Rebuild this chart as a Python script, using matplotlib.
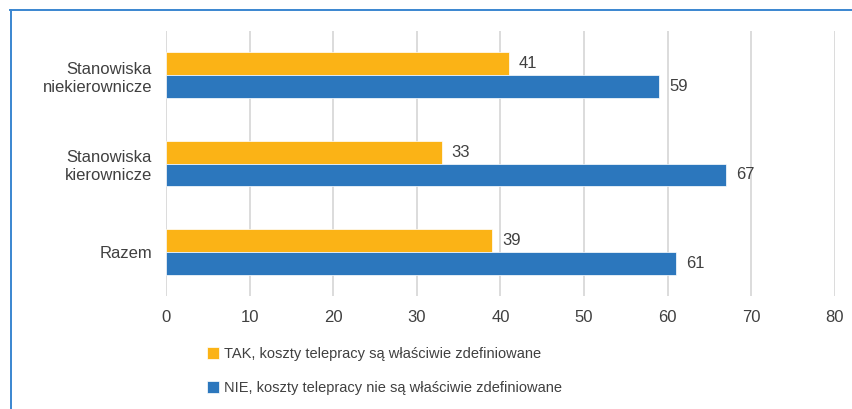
import matplotlib
matplotlib.use("Agg")
import matplotlib.pyplot as plt
from matplotlib.lines import Line2D
import numpy as np

plt.rcParams['font.family'] = ['Liberation Sans', 'DejaVu Sans']

categories = ["Stanowiska\nniekierownicze", "Stanowiska\nkierownicze", "Razem"]
tak_values = [41, 33, 39]
nie_values = [59, 67, 61]
series_labels = ["TAK, koszty telepracy są właściwie zdefiniowane",
                 "NIE, koszty telepracy nie są właściwie zdefiniowane"]
x_ticks = [0, 10, 20, 30, 40, 50, 60, 70, 80]

c_tak = "#FBB316"
c_nie = "#2C77BD"
c_text = "#404040"
c_grid = "#D9D9D9"
c_frame = "#3A86D0"

W, H = 853, 409
fig = plt.figure(figsize=(W / 100, H / 100), dpi=100)
ax = fig.add_axes([166 / W, 1 - 296 / H, (835 - 166) / W, (296 - 31) / H])

y = np.arange(len(categories))
h = 0.26
b1 = ax.barh(y - h / 2, tak_values, height=h, color=c_tak, edgecolor="white",
             linewidth=0.5, label=series_labels[0], zorder=3)
b2 = ax.barh(y + h / 2, nie_values, height=h, color=c_nie, edgecolor="white",
             linewidth=0.5, label=series_labels[1], zorder=3)

for bars, vals in ((b1, tak_values), (b2, nie_values)):
    for rect, v in zip(bars, vals):
        ax.annotate(str(v), (v, rect.get_y() + rect.get_height() / 2),
                    xytext=(7, 0), textcoords="offset points",
                    ha="left", va="center", fontsize=12, color=c_text)

ax.set_xlim(0, 80)
ax.set_ylim(len(categories) - 0.5, -0.5)
ax.set_xticks(x_ticks)
ax.set_yticks(y)
ax.set_yticklabels(categories, linespacing=1.25)
ax.tick_params(axis="both", length=0, labelsize=12, colors=c_text)
ax.tick_params(axis="x", pad=10)
ax.tick_params(axis="y", pad=10)
ax.grid(axis="x", color=c_grid, linewidth=1.3, zorder=0)
ax.set_axisbelow(True)
for s in ax.spines.values():
    s.set_visible(False)

leg = fig.legend(handles=[b1, b2], loc="center left",
                 bbox_to_anchor=(201 / W, 1 - 371 / H), frameon=False,
                 fontsize=10.5, handlelength=0.85, handleheight=0.85,
                 handletextpad=0.3, labelspacing=1.35, borderaxespad=0)
for t in leg.get_texts():
    t.set_color(c_text)

# outer frame (top and left edges)
fig.add_artist(Line2D([10 / W, 1.0], [1 - 10 / H, 1 - 10 / H], transform=fig.transFigure,
                      color=c_frame, linewidth=1.4))
fig.add_artist(Line2D([11 / W, 11 / W], [1 - 10 / H, 0.0], transform=fig.transFigure,
                      color=c_frame, linewidth=1.4))

fig.savefig("out.png", dpi=100)
